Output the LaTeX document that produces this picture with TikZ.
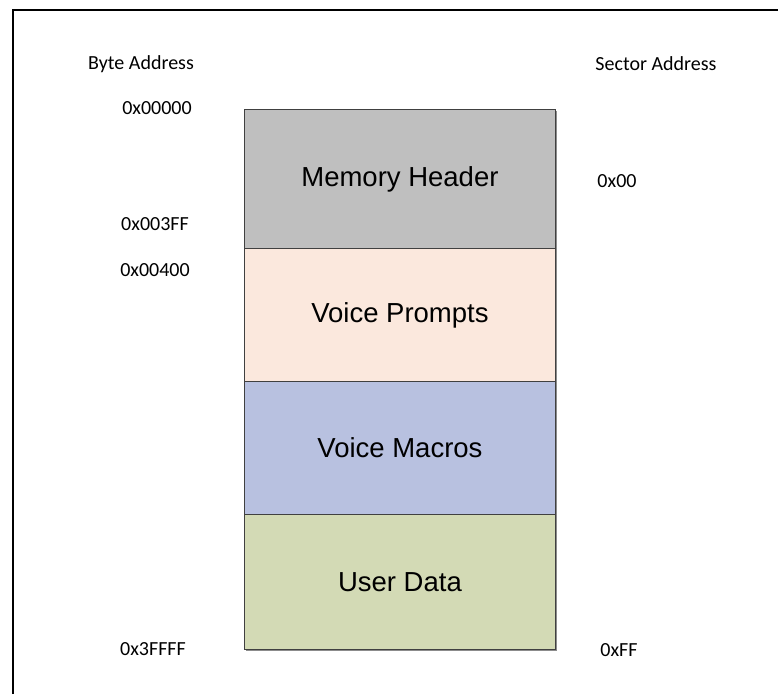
\documentclass[tikz,border=0pt]{standalone}
\usepackage{fontspec}
\setmainfont{Carlito}
\newfontfamily\boxfont{Liberation Sans}
\definecolor{hdrgray}{HTML}{BFBFBF}
\definecolor{vpeach}{HTML}{FBE8DD}
\definecolor{vblue}{HTML}{B8C1E0}
\definecolor{ugreen}{HTML}{D3DAB5}
\definecolor{edgegray}{HTML}{404040}
\definecolor{shadowgray}{HTML}{8C8C8C}
\begin{document}
\begin{tikzpicture}[x=1pt,y=-1pt,
  addr/.style={font=\fontsize{20}{22}\selectfont, inner sep=0pt, anchor=center},
  region/.style={draw=edgegray, line width=0.9pt, minimum width=311pt, inner sep=0pt,
    font=\boxfont\fontsize{27.5}{30}\selectfont, anchor=north west}]
\useasboundingbox (0,0) rectangle (778,694);
% outer frame (left and top visible)
\draw[line width=2.2pt] (13,694) -- (13,10) -- (778,10);
% shadow
\fill[shadowgray] (246,111) rectangle (557,651);
% regions
\node[region, fill=hdrgray, minimum height=139pt] (hdr) at (244,109) {Memory Header};
\node[region, fill=vpeach, minimum height=133pt] (vp) at (244,248) {Voice Prompts};
\node[region, fill=vblue, minimum height=133pt] (vm) at (244,381) {Voice Macros};
\node[region, fill=ugreen, minimum height=135pt] (ud) at (244,514) {User Data};
% address labels
\node[addr] (bytelbl) at (141,64) {Byte Address};
\node[addr] (seclbl) at (656,64) {Sector Address};
\node[addr] (a0) at (157,108) {0x00000};
\node[addr] (a3ff) at (155,224) {0x003FF};
\node[addr] (a400) at (155,270) {0x00400};
\node[addr] (aend) at (153,649) {0x3FFFF};
\node[addr] (s00) at (617,181) {0x00};
\node[addr] (sff) at (619,650) {0xFF};
\end{tikzpicture}
\end{document}
